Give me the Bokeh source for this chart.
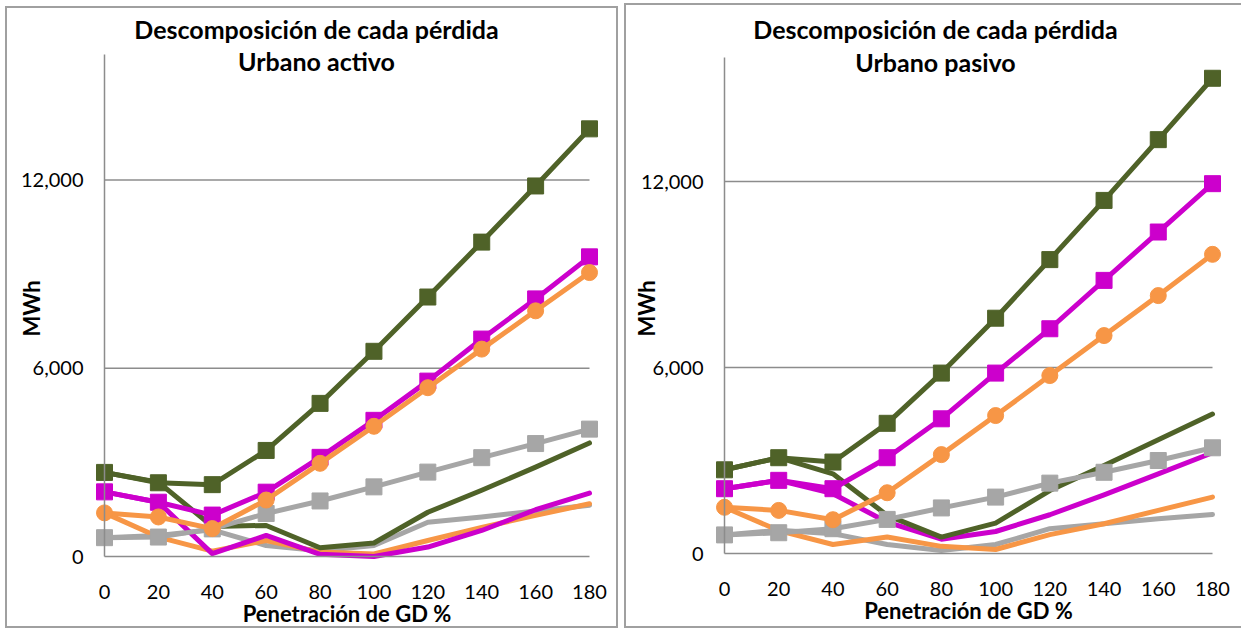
from bokeh.plotting import figure
from bokeh.layouts import row
from bokeh.models import Range1d, FixedTicker, NumeralTickFormatter, Label
from bokeh.embed import file_html
from bokeh.resources import INLINE

# ---------------- data ----------------
x_gd = [0, 20, 40, 60, 80, 100, 120, 140, 160, 180]
x_ticks = [0, 20, 40, 60, 80, 100, 120, 140, 160, 180]
y_ticks = [0, 6000, 12000]
y_max = 16000

# Urbano activo
a_green_m = [2680, 2350, 2290, 3380, 4880, 6540, 8270, 10020, 11810, 13630]
a_mag_m = [2060, 1730, 1320, 2050, 3160, 4340, 5590, 6930, 8210, 9550]
a_org_m = [1390, 1260, 890, 1800, 2970, 4150, 5380, 6610, 7830, 9050]
a_gray_m = [600, 620, 880, 1370, 1770, 2220, 2690, 3150, 3600, 4060]
a_green_l = [2680, 2370, 960, 990, 280, 430, 1410, 2110, 2850, 3620]
a_mag_l = [2060, 1730, 90, 670, 70, 0, 300, 830, 1490, 2020]
a_org_l = [1390, 620, 170, 510, 140, 80, 510, 930, 1310, 1680]
a_gray_l = [600, 670, 850, 350, 180, 350, 1090, 1260, 1450, 1630]

# Urbano pasivo
p_green_m = [2700, 3090, 2950, 4200, 5820, 7590, 9480, 11390, 13350, 15330]
p_mag_m = [2090, 2360, 2090, 3090, 4345, 5820, 7250, 8810, 10370, 11930]
p_org_m = [1490, 1390, 1090, 1960, 3190, 4450, 5740, 7030, 8320, 9650]
p_gray_m = [600, 670, 800, 1100, 1470, 1820, 2270, 2620, 3000, 3410]
p_green_l = [2700, 3090, 2570, 1230, 530, 980, 2030, 2840, 3670, 4500]
p_mag_l = [2090, 2360, 1930, 1010, 460, 710, 1250, 1890, 2570, 3250]
p_org_l = [1490, 740, 290, 530, 230, 130, 610, 960, 1390, 1820]
p_gray_l = [600, 750, 640, 290, 100, 290, 800, 960, 1120, 1260]

title_1 = "Descomposición de cada pérdida"
sub_a = "Urbano activo"
sub_p = "Urbano pasivo"
x_label = "Penetración de GD %"
y_label = "MWh"

GREEN = "#4F6228"
MAG = "#CC00CC"
ORG = "#F79646"
GRAY = "#A6A6A6"
AXC = "#8C8C8C"
FONT = "Lato"


def panel(width, height, plot_px, sub, series, title_pos, ylab_pos, border_style):
    # plot_px: pixel box (in canvas coords) of the data area: left, right, top, bottom
    L, R, T, B = plot_px
    x0, x1 = min(x_ticks), max(x_ticks)
    kx = (x1 - x0) / (R - L)
    ky = y_max / (B - T)
    xr = Range1d(x0 - L * kx, x1 + (width - R) * kx)
    yr = Range1d(0 - (height - B) * ky, y_max + T * ky)
    p = figure(width=width, height=height, output_backend="svg",
               toolbar_location=None, x_range=xr, y_range=yr,
               min_border=0)
    p.outline_line_color = None
    p.xgrid.visible = False
    p.ygrid.visible = False

    # horizontal gridlines between first and last category
    p.segment(x0=[x0] * 2, x1=[x1] * 2, y0=y_ticks[1:], y1=y_ticks[1:],
              line_color=AXC, line_width=1.5)

    green_m, mag_m, org_m, gray_m, green_l, mag_l, org_l, gray_l = series
    for ys, c in [(gray_l, GRAY), (org_l, ORG), (mag_l, MAG), (green_l, GREEN)]:
        p.line(x_gd, ys, line_color=c, line_width=5, line_join="round",
               line_cap="round")
    for ys, c, mk in [(gray_m, GRAY, "square"), (mag_m, MAG, "square"),
                      (org_m, ORG, "circle"), (green_m, GREEN, "square")]:
        p.line(x_gd, ys, line_color=c, line_width=5, line_join="round")
        p.scatter(x_gd, ys, marker=mk, size=16, fill_color=c, line_color=c)

    xa = p.xaxis[0]
    xa.fixed_location = 0
    xa.ticker = FixedTicker(ticks=x_ticks)
    xa.bounds = (x0, x1)
    xa.axis_line_color = AXC
    xa.axis_line_width = 1.5
    xa.major_tick_line_color = None
    xa.minor_tick_line_color = None
    xa.major_tick_in = 0
    xa.major_tick_out = 0
    xa.major_label_standoff = 28
    xa.major_label_text_font = FONT
    xa.major_label_text_font_size = "20px"
    xa.major_label_text_color = "#000000"
    xa.axis_label = x_label
    xa.axis_label_text_font = FONT
    xa.axis_label_text_font_style = "bold"
    xa.axis_label_text_font_size = "22px"
    xa.axis_label_text_color = "#000000"
    xa.axis_label_standoff = -2

    ya = p.yaxis[0]
    ya.fixed_location = 0
    ya.ticker = FixedTicker(ticks=y_ticks)
    ya.bounds = (0, y_max)
    ya.formatter = NumeralTickFormatter(format="0,0")
    ya.axis_line_color = AXC
    ya.axis_line_width = 1.5
    ya.major_tick_line_color = None
    ya.minor_tick_line_color = None
    ya.major_tick_in = 0
    ya.major_tick_out = 0
    ya.major_label_standoff = 21
    ya.major_label_text_font = FONT
    ya.major_label_text_font_size = "20px"
    ya.major_label_text_color = "#000000"

    for txt, sy in [(title_1, title_pos[1]), (sub, title_pos[2])]:
        p.add_layout(Label(x=title_pos[0], y=height - sy, x_units="screen",
                           y_units="screen", text=txt, text_font=FONT,
                           text_font_style="bold", text_font_size="25px",
                           text_align="center", text_baseline="middle",
                           text_color="#000000"))
    p.add_layout(Label(x=ylab_pos[0], y=height - ylab_pos[1], x_units="screen",
                       y_units="screen", text=y_label, angle=1.5708,
                       text_font=FONT, text_font_style="bold",
                       text_font_size="22px", text_align="center",
                       text_baseline="middle", text_color="#000000"))
    p.styles = border_style
    return p


# left panel: canvas starts at page (7, 8)
p1 = panel(613, 622, (104 - 7, 589 - 7, 54 - 8, 556 - 8), sub_a,
           (a_green_m, a_mag_m, a_org_m, a_gray_m,
            a_green_l, a_mag_l, a_org_l, a_gray_l),
           (316 - 7, 28 - 8, 60 - 8), (31 - 7, 308 - 8),
           {"border": "2px solid #A0A0A0"})
p1.margin = (6, 0, 0, 5)

# right panel: canvas starts at page (630, 5)
p2 = panel(617, 625, (728 - 630, 1216 - 630, 57 - 5, 553 - 5), sub_p,
           (p_green_m, p_mag_m, p_org_m, p_gray_m,
            p_green_l, p_mag_l, p_org_l, p_gray_l),
           (939 - 630, 28 - 5, 61 - 5), (650 - 630, 308 - 5),
           {"border-left": "2px solid #A0A0A0", "border-top": "2px solid #A0A0A0",
            "border-bottom": "2px solid #A0A0A0"})
p2.margin = (3, 0, 0, 6)

layout = row(p1, p2)
open("out.html", "w").write(file_html(layout, INLINE))
